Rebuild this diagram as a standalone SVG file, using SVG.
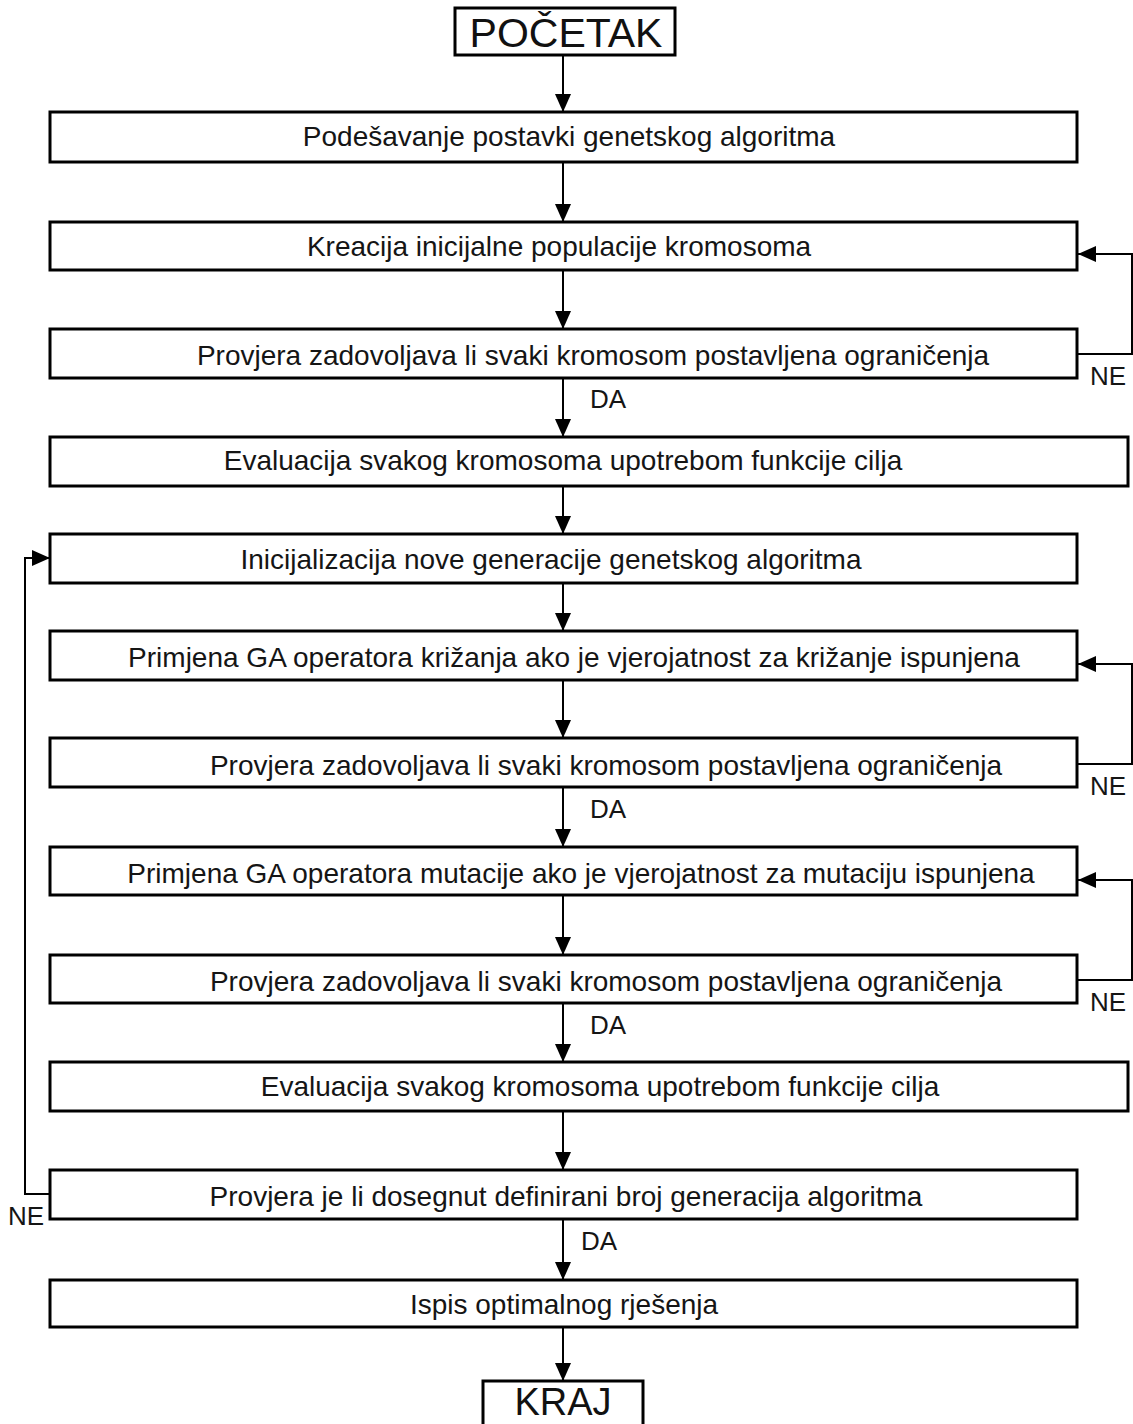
<svg xmlns="http://www.w3.org/2000/svg" width="1133" height="1424" viewBox="0 0 1133 1424">
<style>
.box{fill:#fff;stroke:#000;stroke-width:3}
.t{font-family:"Liberation Sans",Arial,sans-serif;font-size:28px;fill:#151515;text-anchor:middle}
.big{font-family:"Liberation Sans",Arial,sans-serif;font-size:41px;fill:#111;text-anchor:middle}
.lbl{font-family:"Liberation Sans",Arial,sans-serif;font-size:26px;fill:#151515}
.c{fill:none;stroke:#000;stroke-width:2}
</style>
<defs>
<marker id="ah" markerUnits="userSpaceOnUse" markerWidth="18" markerHeight="16" refX="18" refY="8" orient="auto">
<path d="M0,0 L18,8 L0,16 Z" fill="#000"/>
</marker>
</defs>
<rect width="1133" height="1424" fill="#fff"/>
<g id="connectors">
<line class="c" x1="563" y1="55" x2="563" y2="112" marker-end="url(#ah)"/>
<line class="c" x1="563" y1="162" x2="563" y2="222" marker-end="url(#ah)"/>
<line class="c" x1="563" y1="270" x2="563" y2="329" marker-end="url(#ah)"/>
<line class="c" x1="563" y1="378" x2="563" y2="437" marker-end="url(#ah)"/>
<line class="c" x1="563" y1="486" x2="563" y2="534" marker-end="url(#ah)"/>
<line class="c" x1="563" y1="583" x2="563" y2="631" marker-end="url(#ah)"/>
<line class="c" x1="563" y1="680" x2="563" y2="738" marker-end="url(#ah)"/>
<line class="c" x1="563" y1="787" x2="563" y2="847" marker-end="url(#ah)"/>
<line class="c" x1="563" y1="895" x2="563" y2="955" marker-end="url(#ah)"/>
<line class="c" x1="563" y1="1003" x2="563" y2="1062" marker-end="url(#ah)"/>
<line class="c" x1="563" y1="1111" x2="563" y2="1170" marker-end="url(#ah)"/>
<line class="c" x1="563" y1="1219" x2="563" y2="1280" marker-end="url(#ah)"/>
<line class="c" x1="563" y1="1327" x2="563" y2="1381" marker-end="url(#ah)"/>
<polyline class="c" points="1077,354 1132,354 1132,254 1078,254" marker-end="url(#ah)"/>
<polyline class="c" points="1077,764 1132,764 1132,664 1078,664" marker-end="url(#ah)"/>
<polyline class="c" points="1077,980 1132,980 1132,880 1078,880" marker-end="url(#ah)"/>
<polyline class="c" points="50,1194 25,1194 25,558 50,558" marker-end="url(#ah)"/>
<text class="lbl" x="590" y="408">DA</text>
<text class="lbl" x="590" y="818">DA</text>
<text class="lbl" x="590" y="1034">DA</text>
<text class="lbl" x="581" y="1250">DA</text>
<text class="lbl" x="1090" y="385">NE</text>
<text class="lbl" x="1090" y="795">NE</text>
<text class="lbl" x="1090" y="1011">NE</text>
<text class="lbl" x="8" y="1225">NE</text>
</g>
<g id="start"><rect class="box" x="455" y="8" width="220" height="47"/><text class="big" x="566" y="47">POČETAK</text></g>
<g id="n1"><rect class="box" x="50" y="112" width="1027" height="50"/><text class="t" x="569" y="146">Podešavanje postavki genetskog algoritma</text></g>
<g id="n2"><rect class="box" x="50" y="222" width="1027" height="48"/><text class="t" x="559" y="256">Kreacija inicijalne populacije kromosoma</text></g>
<g id="n3"><rect class="box" x="50" y="329" width="1027" height="49"/><text class="t" x="593" y="365">Provjera zadovoljava li svaki kromosom postavljena ograničenja</text></g>
<g id="n4"><rect class="box" x="50" y="437" width="1078" height="49"/><text class="t" x="563" y="470">Evaluacija svakog kromosoma upotrebom funkcije cilja</text></g>
<g id="n5"><rect class="box" x="50" y="534" width="1027" height="49"/><text class="t" x="551" y="569">Inicijalizacija nove generacije genetskog algoritma</text></g>
<g id="n6"><rect class="box" x="50" y="631" width="1027" height="49"/><text class="t" x="574" y="667">Primjena GA operatora križanja ako je vjerojatnost za križanje ispunjena</text></g>
<g id="n7"><rect class="box" x="50" y="738" width="1027" height="49"/><text class="t" x="606" y="775">Provjera zadovoljava li svaki kromosom postavljena ograničenja</text></g>
<g id="n8"><rect class="box" x="50" y="847" width="1027" height="48"/><text class="t" x="581" y="883">Primjena GA operatora mutacije ako je vjerojatnost za mutaciju ispunjena</text></g>
<g id="n9"><rect class="box" x="50" y="955" width="1027" height="48"/><text class="t" x="606" y="991">Provjera zadovoljava li svaki kromosom postavljena ograničenja</text></g>
<g id="n10"><rect class="box" x="50" y="1062" width="1078" height="49"/><text class="t" x="600" y="1096">Evaluacija svakog kromosoma upotrebom funkcije cilja</text></g>
<g id="n11"><rect class="box" x="50" y="1170" width="1027" height="49"/><text class="t" x="566" y="1206">Provjera je li dosegnut definirani broj generacija algoritma</text></g>
<g id="n12"><rect class="box" x="50" y="1280" width="1027" height="47"/><text class="t" x="564" y="1314">Ispis optimalnog rješenja</text></g>
<g id="end"><rect class="box" x="483" y="1381" width="160" height="60"/><text class="big" x="563" y="1415" style="font-size:38px">KRAJ</text></g>
</svg>
